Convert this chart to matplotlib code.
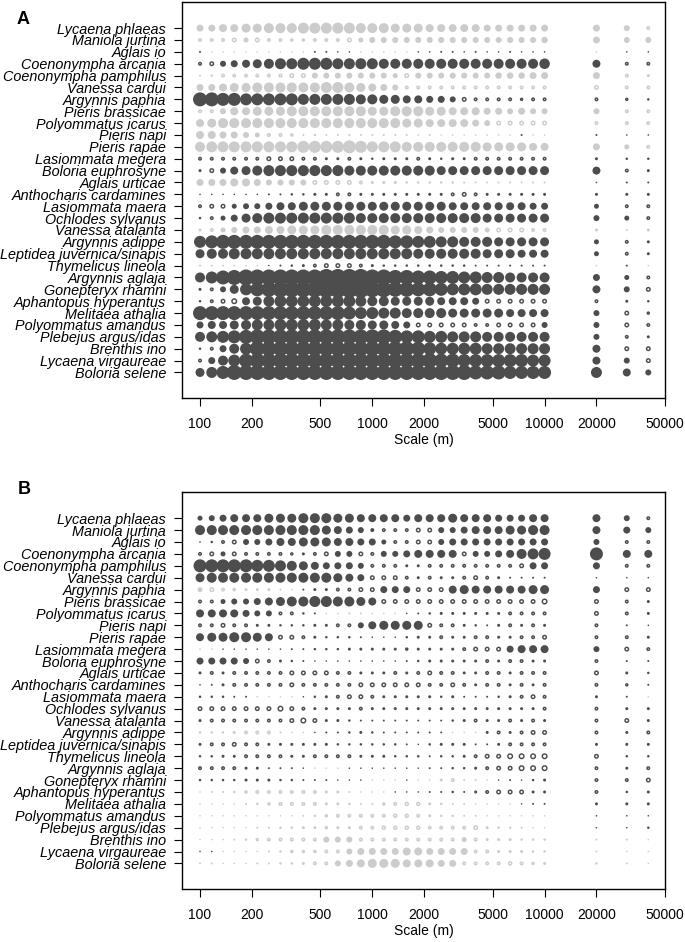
import matplotlib
matplotlib.use('Agg')
import matplotlib.pyplot as plt
from matplotlib.ticker import NullLocator

plt.rcParams['font.family'] = ['Liberation Sans', 'DejaVu Sans']

SPECIES = ['Lycaena phlaeas', 'Maniola jurtina', 'Aglais io', 'Coenonympha arcania',
           'Coenonympha pamphilus', 'Vanessa cardui', 'Argynnis paphia', 'Pieris brassicae',
           'Polyommatus icarus', 'Pieris napi', 'Pieris rapae', 'Lasiommata megera',
           'Boloria euphrosyne', 'Aglais urticae', 'Anthocharis cardamines', 'Lasiommata maera',
           'Ochlodes sylvanus', 'Vanessa atalanta', 'Argynnis adippe', 'Leptidea juvernica/sinapis',
           'Thymelicus lineola', 'Argynnis aglaja', 'Gonepteryx rhamni', 'Aphantopus hyperantus',
           'Melitaea athalia', 'Polyommatus amandus', 'Plebejus argus/idas', 'Brenthis ino',
           'Lycaena virgaureae', 'Boloria selene']

# analysis scales (m): 31 log-spaced steps 100-10000 plus three coarse ones
SCALES = [100, 117, 136, 158, 185, 215, 251, 293, 341, 398, 464, 541, 631, 736, 858,
          1000, 1166, 1359, 1585, 1848, 2154, 2512, 2929, 3415, 3981, 4642, 5412, 6310,
          7356, 8577, 10000, 20000, 30000, 40000]
XTICKS = [100, 200, 500, 1000, 2000, 5000, 10000, 20000, 50000]

# dot diameters (px) per species, one value per scale
SIZES_A = [
    [7, 7, 8, 8, 9, 9, 10, 10, 10, 11, 11, 11, 11, 11, 10, 10, 10, 9, 9, 9, 8, 8, 8, 8, 8, 7, 7, 7, 7, 7, 7, 7, 6, 4],
    [4, 4, 4, 5, 5, 5, 4, 4, 3.5, 3.5, 4, 4, 4, 5, 5, 6, 6, 6, 6, 6, 6, 6, 6, 6, 6, 6, 6, 6, 6, 6, 6.5, 7, 6, 6],
    [2, 1, 1, 1, 1.5, 1.5, 1, 1, 1, 1, 2, 2, 1.5, 1.5, 1, 1, 1, 1, 1, 1.5, 1.5, 2, 2, 1.5, 2, 1.5, 1.5, 2, 1.5, 1.5, 1.5, 1, 1.5, 1.5],
    [4, 5, 6, 7, 8, 9, 10, 11, 11, 12, 12, 12, 11, 11, 11, 11, 10, 10, 10, 10, 10, 10, 10, 10, 10, 10, 10, 10, 10, 10, 10.5, 8, 4, 4],
    [2, 2.5, 4, 4, 4, 4, 4, 4, 5, 5, 6, 6, 6, 6, 6, 6, 6, 5, 5, 6, 6, 6, 6, 6, 6, 6, 6.5, 6.5, 6.5, 7, 7, 7, 4, 3],
    [7, 7, 8, 9, 9, 10, 10, 10, 10, 10, 10, 11, 11, 10, 9, 8, 7, 6, 4, 4, 4, 4, 4, 4, 4, 4, 4, 4, 4, 4, 4, 5, 4, 4],
    [14, 14, 13, 13, 12, 12, 12, 12, 12, 11, 11, 11, 11, 11, 10, 10, 9, 9, 8, 8, 7, 7, 6, 5, 4, 4, 4, 4, 3.5, 4, 4, 4, 3.5, 2.5],
    [4, 4, 6, 8, 8, 9, 9, 9, 10, 10, 10, 10, 10, 10, 10, 9, 9, 10, 10, 10, 9, 9, 8, 8, 8, 7, 7, 6, 7, 6, 6, 6, 4, 4],
    [8, 9, 10, 10, 10, 10, 10, 10, 10, 10, 10, 10, 10, 10, 10, 10, 10, 10, 9, 9, 8, 8, 8, 8, 7, 6, 5, 5, 5, 5, 5, 4, 4, 4],
    [8, 8, 7, 7, 6, 5, 4, 4, 3.5, 2, 2.5, 2, 2, 2, 2, 2, 2, 2, 2, 1.5, 2, 1.5, 1.5, 1.5, 1.5, 1.5, 1.5, 1.5, 2, 1.5, 1.5, 2, 1.5, 1.5],
    [10, 11, 11, 11, 11, 11, 11, 11, 11, 12, 12, 12, 12, 13, 12, 11, 11, 11, 10, 10, 10, 10, 10, 10, 10, 9, 9, 9, 9, 8, 8, 7, 5, 4],
    [4, 4, 4, 4, 4, 4, 5, 5, 5, 4, 4, 3, 3, 4, 3, 2.5, 3, 3, 3, 4, 3, 2.5, 3, 3, 4, 4, 4, 4, 4, 4, 4, 3, 2.5, 2.5],
    [3, 5, 6, 8, 9, 10, 11, 11, 11, 11, 11, 11, 11, 10, 10, 10, 10, 10, 10, 10, 10, 9, 9, 9, 9, 9, 9, 9, 9, 9, 9, 8, 4, 3],
    [7, 7, 7, 8, 8, 7, 6, 6, 6, 6, 5, 5, 5, 5, 4, 3, 3, 3, 2.5, 2.5, 2.5, 2.5, 2.5, 2, 2, 2, 2, 2, 2, 2, 2, 1.5, 2, 2],
    [1.5, 1.5, 1.5, 1.5, 1.5, 1.5, 2, 2, 2.5, 2.5, 3, 3, 4, 4, 3, 3, 3, 3, 3, 3, 3, 3, 4, 5, 4, 3, 3, 3, 3, 3, 3, 3, 3, 3],
    [4, 5, 5, 5, 6, 6, 7, 8, 8, 9, 9, 9, 9, 9, 9, 9, 9, 9, 9, 9, 9, 9, 8, 8, 8, 8, 8, 8, 8, 7, 7, 5, 4, 4],
    [2.5, 4, 5, 7, 9, 10, 11, 11, 11, 11, 11, 11, 11, 11, 10, 10, 10, 10, 10, 10, 10, 10, 10, 10, 10, 9, 9, 9, 9, 9, 9, 6, 5, 4],
    [3, 4, 5, 6, 7, 7, 8, 8, 9, 9, 9, 10, 10, 10, 10, 10, 10, 9, 9, 8, 7, 6, 6, 6, 6, 5, 5, 5, 5, 4, 4, 3, 2, 3],
    [12, 13, 14, 14, 14, 14, 14, 14, 14, 14, 14, 14, 14, 14, 14, 14, 14, 13, 13, 12, 12, 11, 11, 10, 10, 10, 9, 9, 9, 9, 9, 5, 4, 3],
    [9, 10, 10, 11, 11, 11, 11, 11, 11, 11, 11, 11, 11, 11, 11, 11, 11, 11, 11, 10, 10, 10, 10, 10, 10, 9, 9, 9, 8, 8, 8, 5, 4, 3],
    [2, 2, 2, 1.5, 1.5, 1, 1.5, 2, 2.5, 3, 4, 5, 5, 5, 4, 3, 2.5, 2.5, 2.5, 2.5, 2.5, 2.5, 2.5, 2.5, 2, 2, 2, 2, 2, 2, 2, 1.5, 2, 1],
    [10, 12, 14, 15, 16, 16, 16, 16, 16, 16, 16, 17, 17, 17, 17, 16, 16, 15, 15, 14, 14, 13, 13, 12, 12, 11, 11, 10, 10, 10, 10, 7, 5, 4],
    [3, 4, 6, 9, 12, 14, 15, 16, 16, 16, 16, 17, 17, 17, 17, 16, 16, 15, 15, 14, 14, 13, 12, 12, 12, 11, 11, 11, 11, 11, 11, 8, 6, 5],
    [2.5, 4, 5, 6, 8, 9, 11, 12, 12, 12, 12, 12, 12, 12, 11, 10, 10, 9, 9, 9, 9, 8, 8, 8, 7, 5, 5, 5, 5, 5, 5, 4, 3, 2.5],
    [14, 14, 14, 14, 14, 14, 14, 14, 14, 14, 14, 14, 14, 13, 12, 12, 11, 11, 10, 10, 10, 10, 9, 9, 9, 9, 9, 8, 8, 8, 8, 6, 5, 3.5],
    [7, 8, 8, 9, 10, 11, 11, 12, 12, 12, 12, 11, 11, 10, 10, 9, 9, 8, 7, 5, 5, 5, 5, 5, 4, 4, 5, 5, 5, 5, 6, 6, 5, 4],
    [10, 11, 12, 13, 14, 15, 15, 15, 15, 15, 15, 15, 15, 15, 15, 15, 15, 14, 13, 13, 12, 12, 11, 11, 11, 10, 10, 10, 10, 10, 10, 6, 4, 3],
    [2.5, 4, 7, 10, 12, 15, 15, 15, 15, 15, 15, 15, 15, 15, 15, 15, 15, 15, 15, 14, 13, 12, 12, 12, 12, 11, 11, 11, 11, 11, 11, 8, 5, 5],
    [4, 7, 10, 12, 14, 15, 15, 15, 15, 15, 15, 15, 15, 15, 15, 15, 15, 15, 15, 15, 15, 14, 14, 13, 13, 13, 13, 13, 13, 12, 12, 8, 6, 5],
    [9, 11, 13, 15, 15, 15, 15, 15, 15, 15, 15, 15, 15, 15, 15, 15, 15, 15, 15, 15, 15, 15, 15, 15, 14, 14, 14, 13, 13, 13, 13, 11, 8, 6],
]

# D = dark filled, d = dark open, L = light filled, l = light open
# (groups of five scales; '|' separates the 20000/30000/40000 columns)
KINDS_A = [
    'LLLLL LLLLL LLLLL LLLLL LLLLL LLLLL L|LLl',
    'llllL lllll llllL LLLLL LLLLL LLLLL L|LLL',
    'DLLLL LLLLL DDDDL LLLLD DDDDD DDDDD D|LDD',
    'ddDDD DDDDD DDDDD DDDDD DDDDD DDDDD D|Ddd',
    'LLlll lllll LLLLL LLLlL LLLLL LLLLL L|Lll',
    'LLLLL LLLLL LLLLL LLLll lllll lllll l|lll',
    'DDDDD DDDDD DDDDD DDDDD DDDdd ddddd d|ddD',
    'llLLL LLLLL LLLLL LLLLL LLLLL LLLLL L|Lll',
    'LLLLL LLLLL LLLLL LLLLL LLLLL Lllll l|lll',
    'LLLLL LlllL lLLLL LLLLL LLLLL LLLDL L|DDD',
    'LLLLL LLLLL LLLLL LLLLL LLLLL LLLLL L|LLl',
    'ddddd ddddd dDDdD DDDDd DDDDd ddddd d|DDD',
    'DdDDD DDDDD DDDDD DDDDD DDDDD DDDDD D|DdD',
    'LLLLL LLLLL lllll LLLLL LLLLL LLLLL L|DDD',
    'DDDDD DDDDD DDddD DDDDD DDddd DDDDD D|DDD',
    'dddDD DDDDD DDDDD DDDDD DDDDD DDDDD D|Ddd',
    'DdDDD DDDDD DDDDD DDDDD DDDDD DDDDD D|DDd',
    'llLLL LLLLL LLLLL LLLLL LLLLL Lllll l|lLl',
    'DDDDD DDDDD DDDDD DDDDD DDDDD DDDDD D|DdD',
    'DDDDD DDDDD DDDDD DDDDD DDDDD DDDDD D|DdD',
    'LLLLL LDDDD ddddd DDDDD DDDDD DDDDD D|LDL',
    'DDDDD DDDDD DDDDD DDDDD DDDDD DDDDD D|DDd',
    'DdDDD DDDDD DDDDD DDDDD DDDDD DDDDD D|DDd',
    'DdddD DDDDD DDDDD DDDDD DDDDD ddddd d|ddD',
    'DDDDD DDDDD DDDDD DDDDD DDDDD DDDDD D|Ddd',
    'DDDDD DDDDD DDDDD DDDDd ddddd ddddd D|Ddd',
    'DDDDD DDDDD DDDDD DDDDD DDDDD DDDDD D|DdD',
    'DdDDD DDDDD DDDDD DDDDD DDDDD DDDDD D|Ddd',
    'dDDDD DDDDD DDDDD DDDDD DDDDD DDDDD D|DDd',
    'DDDDD DDDDD DDDDD DDDDD DDDDD DDDDD D|DDD',
]

SIZES_B = [
    [5, 6, 7, 8, 8, 8, 9, 9, 9, 10, 10, 10, 9, 9, 8, 8, 8, 8, 7, 8, 8, 8, 9, 8, 8, 8, 7, 7, 7, 8, 8, 8, 6, 4],
    [10, 10, 10, 10, 10, 10, 10, 10, 10, 10, 10, 9, 8, 7, 6, 4, 4, 4, 4, 5, 5, 6, 6, 7, 8, 8, 8, 9, 9, 10, 10, 8, 7, 6],
    [1.5, 2.5, 4, 5, 6, 6, 7, 8, 8, 9, 9, 9, 8, 8, 7, 7, 5, 4, 4, 5, 5, 6, 7, 7, 7, 7, 7, 7, 7, 7, 7, 6, 4, 4],
    [4, 5, 5, 5, 4, 4, 4, 4, 3.5, 3, 4, 5, 6, 6, 5, 4, 6, 6, 7, 8, 8, 8, 8, 5, 6, 6, 7, 8, 10, 11, 12, 13, 8, 8],
    [13, 13, 13, 13, 13, 12, 12, 11, 10, 9, 8, 7, 7, 7, 6, 4, 4, 4, 3, 3, 4, 4, 4, 4, 4, 4, 4, 4, 5, 7, 7, 7, 4, 4],
    [9, 10, 10, 10, 10, 10, 10, 10, 10, 10, 10, 10, 9, 8, 7, 5, 5, 5, 4, 3, 4, 3, 3, 4, 5, 4, 3, 2, 2, 2, 2, 1.5, 1.5, 1.5],
    [5, 5, 4, 3.5, 3, 3, 3, 2, 1.5, 2, 3, 3, 4, 4, 5, 5, 7, 7, 7, 5, 5, 5, 8, 9, 8, 8, 8, 8, 8, 9, 9, 7, 5, 5],
    [4, 4, 5, 6, 6, 7, 8, 9, 10, 10, 11, 11, 10, 10, 9, 8, 5, 5, 5, 5, 5, 5, 5, 5, 5, 5, 5, 5, 5, 5, 6, 5, 4, 3],
    [8, 8, 8, 8, 7, 6, 6, 4, 4, 2.5, 2, 1.5, 1.5, 2, 2, 1.5, 1.5, 1, 1.5, 2, 2.5, 3, 3, 3, 3, 3, 3, 4, 4, 4, 4, 5, 4, 3],
    [4, 4, 5, 4, 4, 3, 3, 2.5, 2.5, 2.5, 3, 3, 4, 4, 6, 8, 9, 9, 9, 9, 5, 4, 4, 3, 2.5, 2, 3, 4, 3, 4, 3, 4, 2, 1.5],
    [8, 9, 9, 10, 10, 9, 8, 5, 5, 4, 3, 2.5, 2.5, 2.5, 2, 1.5, 1.5, 1.5, 2.5, 3, 3, 4, 3, 3, 4, 4, 3, 3, 4, 4, 5, 4, 4, 3],
    [1, 1, 1.5, 1.5, 1.5, 1.5, 1.5, 1.5, 2, 2, 2.5, 2.5, 2.5, 3, 3, 3, 3, 3, 3.5, 3, 3, 3, 3, 4, 5, 5, 5, 7, 8, 8, 8, 6, 5, 4],
    [7, 7, 7, 7, 6, 5, 4, 3, 2.5, 2, 1.5, 1.5, 1.5, 1.5, 1.5, 1.5, 1.5, 1.5, 2, 2.5, 3, 3, 3, 3, 3, 4, 3, 4, 4, 3, 3, 4, 2, 2],
    [3, 4, 3, 4, 4, 4, 4, 4, 5, 5, 5, 5, 4, 4, 3, 3, 3, 4, 3, 4, 5, 4, 4, 3, 3, 4, 4, 3, 4, 4, 4, 5, 3, 2.5],
    [1.5, 2, 3, 4, 4, 4, 4, 4, 5, 4, 4, 4, 4, 4, 5, 5, 5, 5, 5, 5, 4, 4, 5, 4, 3, 4, 4, 3, 4, 3, 4, 4, 3.5, 2],
    [2.5, 2.5, 2.5, 2, 2, 1.5, 1.5, 1, 1, 1.5, 2.5, 3, 4, 5, 5, 4, 3, 3, 3, 3, 3, 2.5, 3, 2, 2, 2, 2.5, 3, 4, 5, 4, 3, 2, 1],
    [5, 5, 5, 5, 5, 5, 5, 6, 5, 4, 3, 3, 3, 3, 4, 3, 3, 3, 3, 3, 3, 3, 3, 3, 3, 3, 3, 3, 3, 3, 4, 4, 3, 3],
    [3, 4, 4, 4, 4, 4, 4, 4, 5, 6, 5, 3, 3, 2.5, 2, 2, 2, 2, 2, 2, 2, 2, 2.5, 3, 4, 3, 3, 4, 3, 4, 3, 4, 5, 3],
    [2.5, 2.5, 2.5, 3, 4, 4, 4, 2, 1.5, 1, 1.5, 2, 2, 2.5, 3, 2.5, 2, 2, 2, 2, 2, 2, 1.5, 1.5, 1.5, 3, 4, 3, 4, 5, 5, 4, 3, 4],
    [3, 4, 4, 5, 4, 4, 3, 3, 3, 3, 3, 3, 2.5, 2.5, 2.5, 2.5, 2.5, 2.5, 2, 1.5, 2.5, 3, 3, 3, 2, 2, 3, 4, 4, 4, 4, 3, 3, 3],
    [2.5, 2.5, 3, 3, 4, 4, 4, 4, 3, 3, 4, 4, 4, 4, 3, 3, 3, 2.5, 2.5, 2.5, 2, 2.5, 2.5, 3, 4, 5, 5, 6, 6, 6, 6, 5, 2.5, 2.5],
    [4, 4, 4, 4, 3, 3, 2, 2, 2, 1.5, 1, 1, 1, 1.5, 1.5, 1.5, 1.5, 1.5, 1.5, 1.5, 2, 2, 2.5, 2.5, 3, 4, 5, 5, 6, 6, 6, 4, 3, 4],
    [2.5, 2.5, 2.5, 2.5, 3, 3, 3, 2.5, 2.5, 2, 2, 2, 1.5, 1.5, 1, 1, 1, 1, 1.5, 1, 1, 3, 4, 2, 2, 1, 1.5, 2, 1.5, 2.5, 3, 4, 4, 5],
    [1, 2, 2, 2.5, 3.5, 4, 4, 4, 4, 4, 4, 3, 3, 2, 1.5, 1.5, 1, 1.5, 1.5, 1.5, 2, 2, 2.5, 2, 3, 4, 5, 5, 5, 3, 3, 4, 2.5, 3],
    [1, 1.5, 1.5, 1.5, 2, 2.5, 3.5, 4, 4, 4, 4, 3, 3, 2.5, 2, 2, 3.5, 4, 4.5, 4.5, 3, 2.5, 2, 2, 1.5, 1.5, 1.5, 1.5, 1.5, 2, 2, 3, 3, 3],
    [1, 1, 1, 1, 1.5, 1.5, 1.5, 1.5, 1.5, 2, 2.5, 3.5, 4, 4, 4, 4, 4, 4.5, 4.5, 4, 3, 2.5, 2.5, 2, 2, 1.5, 1.5, 1, 1, 1, 1, 1.5, 1.5, 1.5],
    [1.5, 1.5, 1.5, 1.5, 1.5, 2, 2, 2.5, 2.5, 3, 3, 3.5, 3, 3, 4, 4, 4.5, 4.5, 4.5, 4.5, 4, 4, 4, 4, 5, 3, 2.5, 2.5, 2, 1.5, 1.5, 1.5, 1.5, 2.5],
    [1.5, 1.5, 1.5, 2, 2.5, 3.5, 4, 4, 4, 4, 4, 6, 6, 6, 4, 4, 4, 4, 4, 4, 4, 4, 4, 5, 4, 3, 3, 3, 2.5, 2.5, 2.5, 2, 2, 1],
    [1.5, 1.5, 1, 1, 1.5, 1.5, 2, 2.5, 3.5, 3.5, 3.5, 4, 4, 6, 7, 7, 7, 7, 8, 8, 7, 7, 7, 7, 4, 4, 3, 3, 3, 2.5, 2.5, 2, 1.5, 1],
    [2, 2, 1.5, 1.5, 1.5, 2, 2, 2.5, 2.5, 3, 4, 4, 6, 7, 8, 9, 9, 9, 8, 8, 8, 7, 7, 4, 4, 4, 4, 4.5, 4, 3.5, 3, 2.5, 2, 1.5],
]

KINDS_B = [
    'DDDDD DDDDD DDDDD DDDDD DDDDD DDDDD D|DDd',
    'DDDDD DDDDD DDDDD Ddddd dDDDD DDDDD D|DDD',
    'DDddD DDDDD DDDDD DDddd dDDDD DDDDD D|Ddd',
    'ddDdd ddddD ddDDd dDDDD DDDdD DDDDD D|DDD',
    'DDDDD DDDDD DDDDD dddDD ddddd ddddD D|Ddd',
    'DDDDD DDDDD DDDDD ddddD dDDdd dDDDD D|DDD',
    'LlllL LLLLD DDddd dDDDd ddDDD DDDDD D|Ddd',
    'ddDDD DDDDD DDDDD Ddddd ddddd ddddd d|ddD',
    'DDDDD DDddD DLLLL LLLDD DDDDD DDddd d|ddD',
    'ddddd DDDDD DDddD DDDDD dddDD DDdDd D|dDD',
    'DDDDD DDddd DDDDD DDDDD DdDDd dDDdd d|ddD',
    'LLDDD DDDDD DDDDD DDDDD DDDdd ddDDD D|Ddd',
    'DDDDD ddDDD DDDDD DDDDD DDDDD dDddD D|dDD',
    'DdDdd ddddd ddddD DDdDd dddDD ddDdd d|dDD',
    'DDDdd ddddd ddddd ddddd ddddD ddDdD d|ddD',
    'DDDDD LLLLD DDddd dDDDD DDDDD DDDdd d|DDL',
    'ddddd ddddd DDDDd DDDDD DDDDD DDDDD d|dDD',
    'Ddddd ddddd dDDDD DDDDD DDDDd DDdDd D|ddD',
    'LLLLl llLLL DDDDD DDDDD DDLLL DdDdd d|dDd',
    'Ddddd dDDDD DDDDD DDDDD DDDDD DDddd d|DDD',
    'DDDDd dddDD ddddD DDDDD DDDDd ddddd d|dDD',
    'ddddD DDDDD LLLDD DDDDD DDDDD ddddd d|dDd',
    'DDDDD DDDDD DDDDD LLLDL LllLL LDDDD D|ddd',
    'LLLLl lllll lLLLL LLDDD DDDDD ddddD D|dDD',
    'LLLLL Lllll lLLLL Lllll LLLLL LLLDD D|DDD',
    'LLLLL LLLLL Lllll lllll LLLLL LLLLL L|DDD',
    'LLLLL LLLLL LlLLl lllll lllll LLLLL L|DDD',
    'LLLLL lllll lLLLl lllll lllLl LLLLL L|LLL',
    'DDLLL LLLll lllLL LLLLL LLLLl lLLLL L|LLL',
    'LLLLL LLLLL llLLL LLLLL LLLll lllll l|LLL',
]

DARK = '#4d4d4d'
LIGHT = '#cccccc'
STYLE = {'D': (DARK, True), 'd': (DARK, False), 'L': (LIGHT, True), 'l': (LIGHT, False)}
PT_PER_PX = 0.72   # 100 dpi
RING = 1.05        # open-circle line width, pt
MIN_DOT = 1.6      # smallest visible filled dot, px


def draw_panel(ax, sizes, kinds):
    n = len(SPECIES)
    groups = {k: ([], [], []) for k in STYLE}
    for i, (row_s, row_k) in enumerate(zip(sizes, kinds)):
        row_k = row_k.replace(' ', '').replace('|', '')
        if len(row_s) != len(SCALES) or len(row_k) != len(SCALES):
            raise ValueError(f'{SPECIES[i]}: {len(row_s)} sizes, {len(row_k)} kinds')
        for x, d, k in zip(SCALES, row_s, row_k):
            groups[k][0].append(x)
            groups[k][1].append(n - i)
            groups[k][2].append(d)

    for k, (xs, ys, ds) in groups.items():
        color, filled = STYLE[k]
        if filled:
            s = [(max(d, MIN_DOT) * PT_PER_PX) ** 2 for d in ds]
            ax.scatter(xs, ys, s=s, c=color, linewidths=0, zorder=2)
        else:
            s = [max(d * PT_PER_PX - RING, 0.6) ** 2 for d in ds]
            ax.scatter(xs, ys, s=s, facecolors='none', edgecolors=color,
                       linewidths=RING, zorder=2)

    ax.set_xscale('log')
    ax.set_xlim(78.6, 50000)
    ax.set_ylim(-1.15, 32.2)
    ax.set_yticks(range(n, 0, -1))
    ax.set_yticklabels(SPECIES, fontstyle='italic', fontsize=10.4)
    ax.set_xticks(XTICKS)
    ax.set_xticklabels([str(t) for t in XTICKS], fontsize=10)
    ax.xaxis.set_minor_locator(NullLocator())
    ax.tick_params(axis='both', direction='out', length=6, width=0.8, color='black')
    ax.tick_params(axis='x', pad=7.5)
    ax.tick_params(axis='y', pad=5.5)
    for sp in ax.spines.values():
        sp.set_linewidth(1.0)
        sp.set_color('black')
    ax.annotate('Scale (m)', xy=(0.5, 0), xycoords='axes fraction', xytext=(0, -30.5),
                textcoords='offset points', ha='center', va='center', fontsize=10)


fig = plt.figure(figsize=(6.85, 9.42), dpi=100)
ax_a = fig.add_axes([182 / 685, 1 - 398 / 942, 483 / 685, 396 / 942])
ax_b = fig.add_axes([182 / 685, 1 - 889 / 942, 483 / 685, 397 / 942])
draw_panel(ax_a, SIZES_A, KINDS_A)
draw_panel(ax_b, SIZES_B, KINDS_B)
fig.text(17 / 685, 1 - 19 / 942, 'A', fontsize=13, fontweight='bold', va='center')
fig.text(18 / 685, 1 - 490 / 942, 'B', fontsize=13, fontweight='bold', va='center')

fig.savefig('out.png', dpi=100)
